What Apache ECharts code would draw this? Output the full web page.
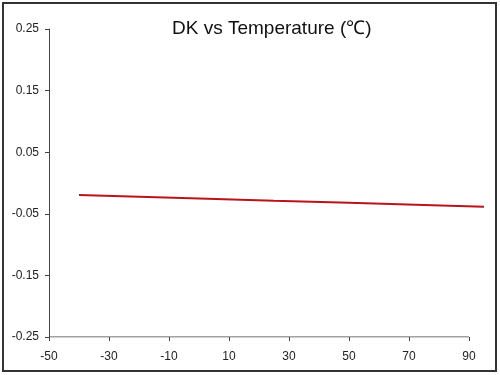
<!DOCTYPE html>
<html>
<head>
<meta charset="utf-8">
<script src="https://cdn.jsdelivr.net/npm/echarts@6/dist/echarts.min.js"></script>
<style>
html,body{margin:0;padding:0;background:#fff;}
#chart{width:500px;height:375px;}
</style>
</head>
<body>
<div id="chart"></div>
<script>
var titleText = 'DK vs Temperature (\u2103)';
var temperatures = [-40, -20, 0, 25, 50, 75, 95];
var dkValues = [-0.0195, -0.0225, -0.0252, -0.0290, -0.0322, -0.0357, -0.0385];
var xTicks = [-50, -30, -10, 10, 30, 50, 70, 90];
var yTicks = [-0.25, -0.15, -0.05, 0.05, 0.15, 0.25];
var xAxisEnd = 95;

var data = temperatures.map(function (t, i) { return [t, dkValues[i]]; });
var axisLineData = [[xTicks[0], yTicks[0]], [xTicks[xTicks.length - 1], yTicks[0]]];

var font = 'Liberation Sans, Arial, sans-serif';
var chart = echarts.init(document.getElementById('chart'));
chart.setOption({
  animation: false,
  backgroundColor: '#fff',
  title: {
    text: titleText,
    left: 167,
    top: 14,
    textStyle: { fontFamily: font, fontSize: 19, fontWeight: 'normal', color: '#111' }
  },
  graphic: [{
    type: 'rect',
    shape: { x: 3, y: 3, width: 493, height: 368 },
    style: { fill: 'none', stroke: '#333', lineWidth: 2 },
    silent: true
  }],
  grid: { left: 49, right: 16, top: 29, bottom: 38, containLabel: false },
  xAxis: {
    type: 'value',
    min: xTicks[0],
    max: xAxisEnd,
    interval: 20,
    axisLine: { show: false, onZero: false },
    axisTick: { show: true, inside: false, length: 4, lineStyle: { color: '#444' }, customValues: xTicks },
    axisLabel: { margin: 14, color: '#222', fontSize: 12, fontFamily: font, customValues: xTicks },
    splitLine: { show: false }
  },
  yAxis: {
    type: 'value',
    min: yTicks[0],
    max: yTicks[yTicks.length - 1],
    interval: 0.1,
    axisLine: { show: true, onZero: false, lineStyle: { color: '#444', width: 1 } },
    axisTick: { show: true, inside: false, length: 4, lineStyle: { color: '#444' } },
    axisLabel: {
      margin: 10, color: '#222', fontSize: 12, fontFamily: font,
      formatter: function (v) { return v.toFixed(2); }
    },
    splitLine: { show: false }
  },
  series: [{
    type: 'line',
    data: axisLineData,
    symbol: 'none',
    silent: true,
    lineStyle: { color: '#444', width: 1 },
    z: 1
  }, {
    type: 'line',
    data: data,
    symbol: 'none',
    lineStyle: { color: '#b8141a', width: 2 },
    z: 3
  }]
});
</script>
</body>
</html>
